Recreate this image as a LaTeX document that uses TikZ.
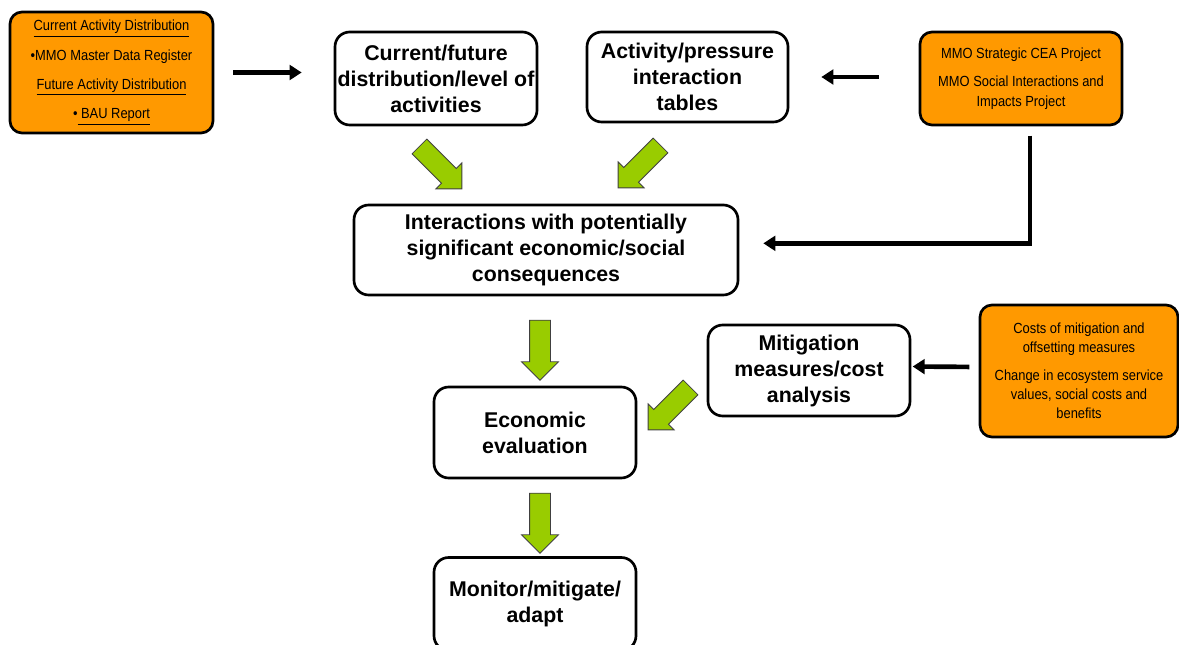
\documentclass[tikz,border=0pt]{standalone}
\usepackage{fontspec}
\setmainfont{Liberation Sans}
\newfontfamily\narrowfont[FakeStretch=0.88]{Liberation Sans}
\usetikzlibrary{shapes.arrows,arrows.meta}
\definecolor{boxorange}{HTML}{FF9900}
\definecolor{arrowgreen}{HTML}{99CC00}
\tikzset{
	stepbox/.style={draw, line width=2pt, rounded corners=11pt, fill=white, align=center, inner sep=0pt, font=\bfseries\fontsize{16}{19.5}\selectfont},
	srcbox/.style={stepbox, fill=boxorange, rounded corners=9pt, font=\narrowfont\fontsize{11}{14.5}\selectfont},
	greenarrow/.style={single arrow, draw=black!75, fill=arrowgreen, line width=0.6pt, inner xsep=0pt, inner ysep=7.5pt, minimum height=45pt, single arrow head extend=6pt},
	feed/.style={line width=3.5pt, -{Triangle[length=9pt, width=11pt]}}
}

\begin{document}
\begin{tikzpicture}[x=0.75pt, y=-0.75pt]
		%%%%% START %%%%%
		\useasboundingbox (0, 0) rectangle (1179, 645);
		
		\node[srcbox, minimum width=152.25pt, minimum height=90.75pt] (actsrc) at (111.5, 72.5)
			{\underline{Current Activity Distribution}\\[7.5pt] \textbullet MMO Master Data Register\\[7.5pt] \underline{Future Activity Distribution}\\[7.5pt] \textbullet\underline{\ BAU Report}};
		\node[stepbox, minimum width=151.5pt, minimum height=69.75pt] (curr) at (436, 78.5)
			{Current/future\\ distribution/level of\\ activities};
		\node[stepbox, minimum width=150.75pt, minimum height=67.5pt] (press) at (687.5, 77)
			{Activity/pressure\\ interaction\\ tables};
		\node[srcbox, minimum width=151.5pt, minimum height=69.75pt] (ceasrc) at (1021, 78.5)
			{MMO Strategic CEA Project\\[7pt] MMO Social Interactions and\\ Impacts Project};
		
		\node[stepbox, minimum width=288pt, minimum height=67.5pt] (interact) at (546, 250)
			{Interactions with potentially\\ significant economic/social\\ consequences};
		
		\node[stepbox, minimum width=151.5pt, minimum height=68.25pt] (mitig) at (809, 370.5)
			{Mitigation\\ measures/cost\\ analysis};
		\node[srcbox, minimum width=148.5pt, minimum height=99pt] (costsrc) at (1079, 371)
			{Costs of mitigation and\\ offsetting measures\\[6pt] Change in ecosystem service\\ values, social costs and\\ benefits};
		\node[stepbox, minimum width=151.5pt, minimum height=68.25pt] (econ) at (535, 432.5)
			{Economic\\ evaluation};
		\node[stepbox, minimum width=151.5pt, minimum height=69.75pt] (monitor) at (535, 604)
			{Monitor/mitigate/\\ adapt};
		
		% green block arrows
		\node[greenarrow, rotate=-45] (g1) at (437, 164) {};
		\node[greenarrow, rotate=-135] (g2) at (643, 163) {};
		\node[greenarrow, rotate=-90] (g3) at (540, 345) {};
		\node[greenarrow, rotate=-135] (g4) at (673, 405) {};
		\node[greenarrow, rotate=-90] (g5) at (540, 518) {};
		
		% black feeds
		\draw[feed, shorten <=14pt, shorten >=24pt] (actsrc.east) -- (curr.west |- actsrc.east);
		\draw[feed, shorten <=30pt, shorten >=24pt] (ceasrc.west |- press.east) -- (press.east);
		\draw[feed, shorten <=7pt, shorten >=18pt] ([xshift=6.75pt]ceasrc.south) |- ([yshift=5pt]interact.east);
		\draw[feed, shorten <=7pt, shorten >=1pt] ([yshift=3pt]costsrc.west) -- ([yshift=3pt]mitig.east);
		
		%%%%% END %%%%%
	\end{tikzpicture}
\end{document}
